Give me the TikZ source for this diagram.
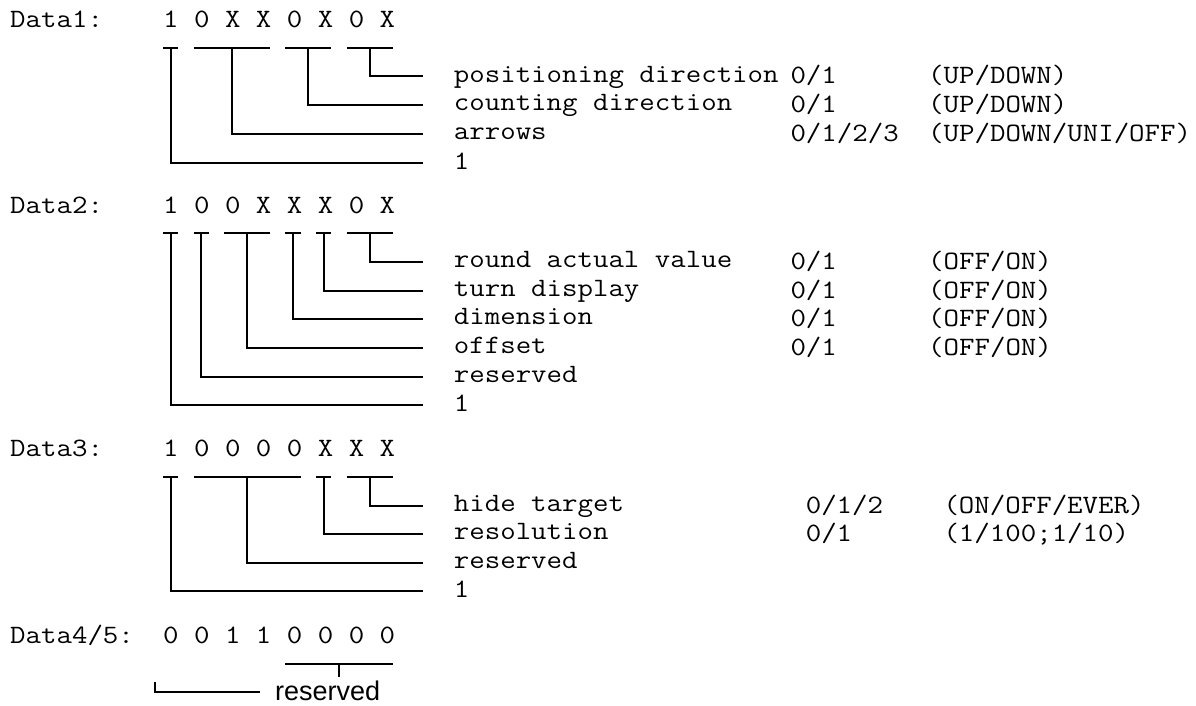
\documentclass[tikz,border=0pt]{standalone}
\usepackage{fontspec}
\newfontfamily\monofont[FakeStretch=1.133]{Latin Modern Mono}
\newfontfamily\sansfont{Liberation Sans}
\begin{document}
\begin{tikzpicture}[x=1pt,y=-1pt,
  declare function={cs(\c)=10+15.3*\c; cc(\c)=10+15.3*(\c+0.5);},
  txt/.style={font=\fontsize{26.5}{29}\monofont, inner sep=0pt, anchor=base west},
  stxt/.style={font=\fontsize{27}{30}\sansfont, inner sep=0pt, anchor=base west},
  wire/.style={line width=2pt}]
\useasboundingbox (0,0) rectangle (1196,706);

% ---------------- Data1 ----------------
\node[txt] (d1) at ({cs(0)},28) {Data1:};
\node[txt] (d1bits) at ({cs(10)},28) {1 0 X X 0 X 0 X};
\draw[wire] ({cs(10)},48) -- ({cs(11)},48);
\draw[wire] ({cs(12)},48) -- ({cs(17)},48);
\draw[wire] ({cs(18)},48) -- ({cs(21)},48);
\draw[wire] ({cs(22)},48) -- ({cs(25)},48);
\coordinate (d1g1) at ({cc(10)},48);
\coordinate (d1g2) at ({cc(14)},48);
\coordinate (d1g3) at ({cc(19)},48);
\coordinate (d1g4) at ({cc(23)},48);
\coordinate (d1e4) at ({cs(27)},76.5);
\coordinate (d1e3) at ({cs(27)},105);
\coordinate (d1e2) at ({cs(27)},134);
\coordinate (d1e1) at ({cs(27)},163);
\node[txt] (d1l4) at ({cs(29)},82.2) {positioning direction};
\node[txt] (d1l3) at ({cs(29)},110.7) {counting direction};
\node[txt] (d1l2) at ({cs(29)},139.7) {arrows};
\node[txt] (d1l1) at ({cs(29)},169.5) {1};
\node[txt] (d1v4) at ({cs(51)},84) {0/1};
\node[txt] (d1v3) at ({cs(51)},112.5) {0/1};
\node[txt] (d1v2) at ({cs(51)},141.5) {0/1/2/3};
\node[txt] (d1w4) at ({cs(60)},84) {(UP/DOWN)};
\node[txt] (d1w3) at ({cs(60)},112.5) {(UP/DOWN)};
\node[txt] (d1w2) at ({cs(60)},141.5) {(UP/DOWN/UNI/OFF)};
\draw[wire] (d1g4) |- (d1e4);
\draw[wire] (d1g3) |- (d1e3);
\draw[wire] (d1g2) |- (d1e2);
\draw[wire] (d1g1) |- (d1e1);

% ---------------- Data2 ----------------
\node[txt] (d2) at ({cs(0)},213) {Data2:};
\node[txt] (d2bits) at ({cs(10)},213) {1 0 0 X X X 0 X};
\draw[wire] ({cs(10)},233) -- ({cs(11)},233);
\draw[wire] ({cs(12)},233) -- ({cs(13)},233);
\draw[wire] ({cs(14)},233) -- ({cs(17)},233);
\draw[wire] ({cs(18)},233) -- ({cs(19)},233);
\draw[wire] ({cs(20)},233) -- ({cs(21)},233);
\draw[wire] ({cs(22)},233) -- ({cs(25)},233);
\coordinate (d2g1) at ({cc(10)},233);
\coordinate (d2g2) at ({cc(12)},233);
\coordinate (d2g3) at ({cc(15)},233);
\coordinate (d2g4) at ({cc(18)},233);
\coordinate (d2g5) at ({cc(20)},233);
\coordinate (d2g6) at ({cc(23)},233);
\coordinate (d2e6) at ({cs(27)},262);
\coordinate (d2e5) at ({cs(27)},290.5);
\coordinate (d2e4) at ({cs(27)},319);
\coordinate (d2e3) at ({cs(27)},347.5);
\coordinate (d2e2) at ({cs(27)},376.5);
\coordinate (d2e1) at ({cs(27)},405);
\node[txt] (d2l6) at ({cs(29)},267.7) {round actual value};
\node[txt] (d2l5) at ({cs(29)},296.2) {turn display};
\node[txt] (d2l4) at ({cs(29)},324.7) {dimension};
\node[txt] (d2l3) at ({cs(29)},353.2) {offset};
\node[txt] (d2l2) at ({cs(29)},382.2) {reserved};
\node[txt] (d2l1) at ({cs(29)},411.5) {1};
\node[txt] (d2v6) at ({cs(51)},269.5) {0/1};
\node[txt] (d2v5) at ({cs(51)},298) {0/1};
\node[txt] (d2v4) at ({cs(51)},326.5) {0/1};
\node[txt] (d2v3) at ({cs(51)},355) {0/1};
\node[txt] (d2w6) at ({cs(60)},269.5) {(OFF/ON)};
\node[txt] (d2w5) at ({cs(60)},298) {(OFF/ON)};
\node[txt] (d2w4) at ({cs(60)},326.5) {(OFF/ON)};
\node[txt] (d2w3) at ({cs(60)},355) {(OFF/ON)};
\draw[wire] (d2g6) |- (d2e6);
\draw[wire] (d2g5) |- (d2e5);
\draw[wire] (d2g4) |- (d2e4);
\draw[wire] (d2g3) |- (d2e3);
\draw[wire] (d2g2) |- (d2e2);
\draw[wire] (d2g1) |- (d2e1);

% ---------------- Data3 ----------------
\node[txt] (d3) at ({cs(0)},456) {Data3:};
\node[txt] (d3bits) at ({cs(10)},456) {1 0 0 0 0 X X X};
\draw[wire] ({cs(10)},477) -- ({cs(11)},477);
\draw[wire] ({cs(12)},477) -- ({cs(19)},477);
\draw[wire] ({cs(20)},477) -- ({cs(21)},477);
\draw[wire] ({cs(22)},477) -- ({cs(25)},477);
\coordinate (d3g1) at ({cc(10)},477);
\coordinate (d3g2) at ({cc(15)},477);
\coordinate (d3g3) at ({cc(20)},477);
\coordinate (d3g4) at ({cc(23)},477);
\coordinate (d3e4) at ({cs(27)},505.5);
\coordinate (d3e3) at ({cs(27)},534);
\coordinate (d3e2) at ({cs(27)},562.5);
\coordinate (d3e1) at ({cs(27)},591);
\node[txt] (d3l4) at ({cs(29)},511.2) {hide target};
\node[txt] (d3l3) at ({cs(29)},539.7) {resolution};
\node[txt] (d3l2) at ({cs(29)},568.2) {reserved};
\node[txt] (d3l1) at ({cs(29)},597.5) {1};
\node[txt] (d3v4) at ({cs(52)},513) {0/1/2};
\node[txt] (d3v3) at ({cs(52)},541.5) {0/1};
\node[txt] (d3w4) at ({cs(61)},513) {(ON/OFF/EVER)};
\node[txt] (d3w3) at ({cs(61)},541.5) {(1/100;1/10)};
\draw[wire] (d3g4) |- (d3e4);
\draw[wire] (d3g3) |- (d3e3);
\draw[wire] (d3g2) |- (d3e2);
\draw[wire] (d3g1) |- (d3e1);

% ---------------- Data4/5 ----------------
\node[txt] (d4) at ({cs(0)},643) {Data4/5:};
\node[txt] (d4bits) at ({cs(10)},643) {0 0 1 1 0 0 0 0};
\draw[wire] ({cs(18)},663.5) -- ({cs(25)},663.5);
\coordinate (d4g) at ({cc(21)},663.5);
\coordinate (d4t) at ({cc(21)},677);
\draw[wire] (d4g) -- (d4t);
\coordinate (d4a) at ({cc(9)},682);
\coordinate (d4b) at (260,692);
\node[stxt] (d4l) at (275,700) {reserved};
\draw[wire] (d4a) |- (d4b);
\end{tikzpicture}
\end{document}
